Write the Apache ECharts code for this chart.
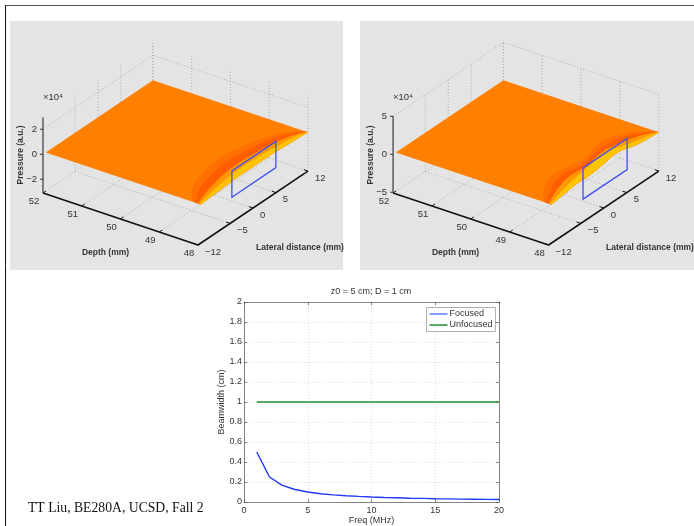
<!DOCTYPE html>
<html><head><meta charset="utf-8">
<script src="https://cdn.jsdelivr.net/npm/echarts@6/dist/echarts.min.js"></script>
<style>html,body{margin:0;padding:0;background:#fff}#c{width:694px;height:526px;filter:blur(0.35px)}</style>
</head><body><div id="c"></div>
<script>
// --- Beamwidth plot data
const freq = [1,2,3,4,5,6,7,8,9,10,11,12,13,14,15,16,17,18,19,20];
const focused = [0.5,0.25,0.167,0.125,0.1,0.083,0.071,0.063,0.056,0.05,0.045,0.042,0.038,0.036,0.033,0.031,0.029,0.028,0.026,0.025];
const unfocused = [1,1,1,1,1,1,1,1,1,1,1,1,1,1,1,1,1,1,1,1];
// --- 3D axes data
const depthTicks = [52,51,50,49,48];
const lateralTicks = [-12,-5,0,5,12];
const pressureTicksA = [-2,0,2];
const pressureTicksB = [-5,0,5];
const pressureRangeA = [-3.1,2.95];
const pressureRangeB = [-5.1,5];
// --- surface samples along the lateral axis, depth of each colour band edge (mm above 48)
const lateralSamples = [-11.4,-10,-8,-6,-4,-2,0,2,4,6,8,10,12];
const edgeA = [0,0.05,0.1,0.15,0.2,0.2,0.2,0.2,0.2,0.15,0.1,0.05,0];
const band1A = [0.20,0.40,0.60,0.72,0.80,0.85,0.86,0.84,0.78,0.70,0.58,0.44,0.10];
const band2A = [0.13,0.27,0.42,0.52,0.58,0.62,0.63,0.62,0.57,0.52,0.44,0.33,0.07];
const band3A = [0.07,0.14,0.22,0.28,0.33,0.36,0.37,0.36,0.33,0.30,0.26,0.19,0.05];
const band4A = [0.03,0.07,0.11,0.14,0.17,0.19,0.20,0.19,0.17,0.15,0.13,0.09,0.02];
const edgeB = [0,0.1,0.3,0.5,0.4,0.5,0.7,1.0,0.9,0.5,0.2,0.1,0];
const band1B = [0.20,0.38,0.58,0.72,0.74,0.68,0.60,0.62,0.72,0.76,0.66,0.50,0.10];
const band2B = [0.13,0.26,0.40,0.52,0.56,0.48,0.46,0.52,0.56,0.56,0.50,0.36,0.07];
const band3B = [0.07,0.15,0.25,0.32,0.38,0.34,0.34,0.38,0.40,0.36,0.32,0.21,0.05];
const band4B = [0.03,0.07,0.12,0.16,0.22,0.24,0.28,0.30,0.26,0.20,0.14,0.09,0.02];
// --- focal rectangle: lateral span and pressure span
const rectLateralA = [-4.6,5];
const rectLateralB = [-4.5,5.1];
const rectPressureA = [-1.1,1];
const rectPressureB = [-2.1,2];

const BASE='#FF8000', BANDS=['#FF7000','#FF5E00','#FF9800','#FFC400'];
const FONT="'Liberation Sans',Arial,sans-serif";
const PW=333, PH=249;
function panelSeries(gridIdx, P){
  // linear projection of (depth, lateral, pressure) into panel units
  const O=[33,172], dD=[38.75,13], dL=[4.58,-3.08], zs=P.zScale;
  const prj=(d,l,z)=>[O[0]+(52-d)*dD[0]+(l+12)*dL[0], O[1]+(52-d)*dD[1]+(l+12)*dL[1]-(z-P.range[0])*zs];
  return {type:'custom',xAxisIndex:gridIdx,yAxisIndex:gridIdx,silent:true,clip:false,data:[[0,0]],z:3,
   renderItem(params,api){
    const c=(d,l,z)=>api.coord(prj(d,l,z));
    const kids=[];
    const line=(a,b,col,w,dash)=>kids.push({type:'line',shape:{x1:a[0],y1:a[1],x2:b[0],y2:b[1]},style:{stroke:col,lineWidth:w,lineDash:dash||null}});
    const text=(p,t,o)=>kids.push(Object.assign({type:'text',x:p[0],y:p[1],rotation:o.rot||0,style:{text:t,fill:'#333',font:o.font||("600 8.5px "+FONT),align:o.align||'center',verticalAlign:'middle'}}));
    const [zmin,zmax]=P.range, dot=[1,2], gc='#a8a8a8';
    // walls and floor
    depthTicks.forEach(d=>{line(c(d,12,zmin),c(d,12,zmax),gc,.9,dot);line(c(d,-12,zmin),c(d,12,zmin),gc,.9,dot);});
    lateralTicks.forEach(l=>{line(c(52,l,zmin),c(52,l,zmax),gc,.9,dot);line(c(52,l,zmin),c(48,l,zmin),gc,.9,dot);});
    const topZ=P.ticks[P.ticks.length-1];
    line(c(52,-12,topZ),c(52,12,topZ),gc,.9,dot);line(c(52,12,topZ),c(48,12,topZ),gc,.9,dot);
    // surface
    const n=lateralSamples.length, L0=lateralSamples[0];
    const zAt=(i,off)=>P.edge[i]*Math.max(0,1-off/P.bands[0][i]);
    const base=[c(52,L0,0),c(52,12,0)];
    for(let i=n-1;i>=0;i--)base.push(c(48,lateralSamples[i],P.edge[i]));
    kids.push({type:'polygon',shape:{points:base},style:{fill:BASE}});
    P.bands.forEach((b,k)=>{
      const pts=[];
      for(let i=0;i<n;i++)pts.push(c(48+b[i],lateralSamples[i],zAt(i,b[i])));
      for(let i=n-1;i>=0;i--)pts.push(c(48,lateralSamples[i],P.edge[i]));
      kids.push({type:'polygon',shape:{points:pts,smooth:0},style:{fill:BANDS[k]}});
    });
    // focal rectangle
    const [l0,l1]=P.rectL,[z0,z1]=P.rect,bl='#3F4FF0';
    kids.push({type:'polygon',shape:{points:[c(48,l0,z0),c(48,l1,z0),c(48,l1,z1),c(48,l0,z1)]},style:{fill:'none',stroke:bl,lineWidth:1.3}});
    // axes
    line(c(52,-12,zmin),c(48,-12,zmin),'#111',1.6);
    line(c(48,-12,zmin),c(48,12,zmin),'#111',1.6);
    line(c(52,-12,zmin),c(52,-12,zmax),'#666',1.6);
    const tf="9.5px "+FONT;
    depthTicks.forEach(d=>{const p=c(d,-12,zmin);line(p,[p[0]+3,p[1]-2],'#111',1);
      text([p[0]-9,p[1]+8],String(d),{font:tf});});
    lateralTicks.forEach(l=>{const p=c(48,l,zmin);line(p,[p[0]-4,p[1]-1.5],'#111',1);
      text([p[0]+7,p[1]+7],String(l).replace('-','\u2212'),{font:tf,align:'left'});});
    P.ticks.forEach(z=>{const p=c(52,-12,z);line(p,[p[0]-3,p[1]],'#333',1);
      text([p[0]-6,p[1]],String(z).replace('-','\u2212'),{font:tf,align:'right'});});
    // titles
    const a=api.coord([0,0]);
    text([a[0]+95.5,a[1]+232],'Depth (mm)',{});
    text([a[0]+290,a[1]+227],'Lateral distance (mm)',{});
    text([a[0]+11,a[1]+134],'Pressure (a.u.)',{rot:Math.PI/2});
    text([a[0]+43,a[1]+76],'\u00d710\u2074',{font:"9.5px "+FONT});
    return {type:'group',children:kids};
   }};
}
const hiddenX=(i)=>({type:'value',gridIndex:i,min:0,max:PW,show:false});
const hiddenY=(i)=>({type:'value',gridIndex:i,min:0,max:PH,inverse:true,show:false});
const grey={show:true,backgroundColor:'#E4E4E4',borderWidth:0};
const lbl={color:'#333',fontFamily:FONT,fontSize:9};
const split={show:true,lineStyle:{color:'#d4d4d4',type:[1,2],width:.8}};
const tick={show:true,inside:true,length:3,lineStyle:{color:'#555',width:.7}};
const axl={show:true,onZero:false,lineStyle:{color:'#666',width:.8}};
const option={
 animation:false,backgroundColor:'#fff',
 title:{text:'z0 = 5 cm; D = 1 cm',left:366,top:282,textAlign:'center',textStyle:{fontFamily:FONT,fontSize:9,fontWeight:'normal',color:'#333'}},
 legend:{data:['Focused','Unfocused'],orient:'vertical',left:426.5,top:307.5,padding:[2,3,2,3],itemGap:2,itemWidth:18,itemHeight:1.5,icon:'rect',
   backgroundColor:'#fff',borderColor:'#999',borderWidth:.8,borderRadius:0,textStyle:{fontFamily:FONT,fontSize:9,color:'#333',padding:[0,0,0,-3]}},
 grid:[
  Object.assign({left:10,top:21,width:PW,height:PH},grey),
  Object.assign({left:360,top:21,width:PW+1,height:PH},grey),
  {left:244,top:302,width:255,height:201,show:false}
 ],
 xAxis:[hiddenX(0),hiddenX(1),
  {type:'value',gridIndex:2,min:0,max:20,interval:5,axisLine:axl,axisTick:tick,splitLine:split,axisLabel:Object.assign({margin:4},lbl),
   name:'Freq (MHz)',nameLocation:'middle',nameGap:14,nameTextStyle:{fontFamily:FONT,fontSize:9,color:'#333'}},
  {type:'value',gridIndex:2,min:0,max:20,interval:5,position:'top',axisLine:axl,axisTick:tick,splitLine:{show:false},axisLabel:{show:false}}],
 yAxis:[hiddenY(0),hiddenY(1),
  {type:'value',gridIndex:2,min:0,max:2,interval:.2,axisLine:axl,axisTick:tick,splitLine:split,axisLabel:Object.assign({margin:2},lbl),
   name:'Beamwidth (cm)',nameLocation:'middle',nameGap:15,nameTextStyle:{fontFamily:FONT,fontSize:9,color:'#333'}},
  {type:'value',gridIndex:2,min:0,max:2,interval:.2,position:'right',axisLine:axl,axisTick:tick,splitLine:{show:false},axisLabel:{show:false}}],
 series:[
  panelSeries(0,{range:pressureRangeA,ticks:pressureTicksA,zScale:12.5,edge:edgeA,bands:[band1A,band2A,band3A,band4A],rect:rectPressureA,rectL:rectLateralA}),
  panelSeries(1,{range:pressureRangeB,ticks:pressureTicksB,zScale:7.6,edge:edgeB,bands:[band1B,band2B,band3B,band4B],rect:rectPressureB,rectL:rectLateralB}),
  {name:'Focused',type:'line',xAxisIndex:2,yAxisIndex:2,showSymbol:false,symbol:'none',data:freq.map((f,i)=>[f,focused[i]]),lineStyle:{color:'#2038F8',width:1.4},itemStyle:{color:'#6078FF'},z:4},
  {name:'Unfocused',type:'line',xAxisIndex:2,yAxisIndex:2,showSymbol:false,symbol:'none',data:freq.map((f,i)=>[f,unfocused[i]]),lineStyle:{color:'#209030',width:1.4},itemStyle:{color:'#209030'},z:4}
 ],
 graphic:[
  {type:'line',shape:{x1:5,y1:5.5,x2:694,y2:5.5},style:{stroke:'#555',lineWidth:1.2},silent:true},
  {type:'line',shape:{x1:5.5,y1:5,x2:5.5,y2:526},style:{stroke:'#111',lineWidth:1},silent:true},
  {type:'text',left:28,top:501,style:{text:'TT Liu, BE280A, UCSD, Fall 2',font:"13.7px 'Liberation Serif',serif",fill:'#111'},silent:true}
 ]
};
echarts.init(document.getElementById('c'),null,{renderer:'canvas'}).setOption(option);
</script></body></html>
